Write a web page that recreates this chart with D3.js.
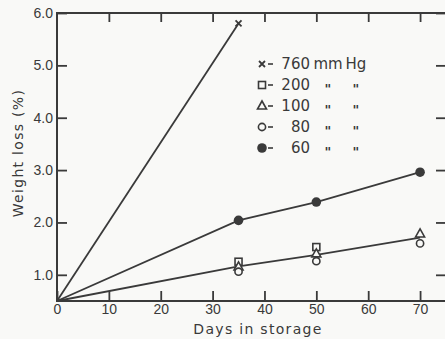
<!DOCTYPE html>
<html>
<head>
<meta charset="utf-8">
<script src="https://cdn.jsdelivr.net/npm/d3@7"></script>
<style>
  body { margin: 0; background: #f9f9f7; }
  svg { display: block; font-family: "DejaVu Sans", sans-serif; }
</style>
</head>
<body>
<div id="chart"></div>
<script>
// Days in storage and weight loss (%) per pressure
const days = [0, 35, 50, 70];
const loss760 = [0.5, 5.8];
const loss200 = [null, 1.25, 1.53, null];
const loss100 = [null, 1.15, 1.40, 1.78];
const loss80 = [null, 1.06, 1.26, 1.60];
const loss60 = [0.5, 2.04, 2.39, 2.96];
const fitLow = [0.5, 1.16, 1.38, 1.71];   // common line for 200/100/80

const xTicks = [0, 10, 20, 30, 40, 50, 60, 70];
const yTicks = [1, 2, 3, 4, 5, 6];
const legendLabels = ['760', '200', '100', '80', '60'];
const legendUnits = [['mm', 'Hg'], ['"', '"'], ['"', '"'], ['"', '"'], ['"', '"']];
const legendSymbols = ['x', 'square', 'triangle', 'circle', 'dot'];

const width = 445, height = 339;
const ink = '#3a3a3a';

const svg = d3.select('#chart').append('svg')
    .attr('width', width)
    .attr('height', height);

const x = d3.scaleLinear().domain([0, 75]).range([57, 446]);
const y = d3.scaleLinear().domain([0.5, 6.0]).range([301, 13]);

// Frame
svg.append('rect')
    .attr('x', x(0)).attr('y', y(6))
    .attr('width', x(75) - x(0)).attr('height', y(0.5) - y(6))
    .attr('fill', 'none').attr('stroke', ink).attr('stroke-width', 2);

const styleAxis = g => {
    g.select('.domain').remove();
    g.selectAll('line').attr('stroke', ink).attr('stroke-width', 1.8);
    g.selectAll('text').attr('fill', ink).style('font-size', '14px');
};

svg.append('g')
    .attr('transform', `translate(${x(0)},0)`)
    .call(d3.axisLeft(y).tickValues(yTicks).tickSize(-10).tickPadding(4).tickFormat(d3.format('.1f')))
    .call(styleAxis);

svg.append('g')
    .attr('transform', `translate(${x(75)},0)`)
    .call(d3.axisRight(y).tickValues(yTicks).tickSize(-10).tickFormat(''))
    .call(styleAxis);

svg.append('g')
    .attr('transform', `translate(0,${y(0.5)})`)
    .call(d3.axisBottom(x).tickValues(xTicks).tickSize(-10).tickPadding(3))
    .call(styleAxis);

svg.append('g')
    .attr('transform', `translate(0,${y(6)})`)
    .call(d3.axisTop(x).tickValues(xTicks.slice(1)).tickSize(-9).tickFormat(''))
    .call(styleAxis);

// Axis titles
svg.append('text')
    .attr('x', 258).attr('y', 334)
    .attr('text-anchor', 'middle')
    .attr('fill', ink)
    .style('font-size', '14px')
    .style('letter-spacing', '1.3px')
    .text('Days in storage');

svg.append('text')
    .attr('transform', 'translate(23,153) rotate(-90)')
    .attr('text-anchor', 'middle')
    .attr('fill', ink)
    .style('font-size', '14px')
    .style('letter-spacing', '1.3px')
    .text('Weight loss (%)');

// Lines
const line = d3.line()
    .defined(d => d[1] != null)
    .x(d => x(d[0]))
    .y(d => y(d[1]));

const lineSets = [
    d3.zip([0, 35], loss760),
    d3.zip(days, loss60),
    d3.zip(days, fitLow)
];
svg.selectAll('.fit')
    .data(lineSets)
    .enter().append('path')
    .attr('class', 'fit')
    .attr('d', line)
    .attr('fill', 'none')
    .attr('stroke', ink)
    .attr('stroke-width', 1.8);

// Markers
function drawMarker(g, kind) {
    if (kind === 'square') {
        g.append('rect').attr('x', -3.5).attr('y', -3.5).attr('width', 7).attr('height', 7)
            .attr('fill', '#f9f9f7').attr('stroke', ink).attr('stroke-width', 1.6);
    } else if (kind === 'triangle') {
        g.append('path').attr('d', 'M0,-5L4.5,3L-4.5,3Z')
            .attr('fill', '#f9f9f7').attr('stroke', ink).attr('stroke-width', 1.6);
    } else if (kind === 'circle') {
        g.append('circle').attr('r', 3.6)
            .attr('fill', '#f9f9f7').attr('stroke', ink).attr('stroke-width', 1.6);
    } else if (kind === 'dot') {
        g.append('circle').attr('r', 4.8).attr('fill', ink);
    } else {
        g.append('path').attr('d', 'M-3,-3L3,3M3,-3L-3,3')
            .attr('stroke', ink).attr('stroke-width', 1.8);
    }
}

const pointSets = [
    { kind: 'x', pts: [[35, loss760[1]]] },
    { kind: 'square', pts: d3.zip(days, loss200) },
    { kind: 'triangle', pts: d3.zip(days, loss100) },
    { kind: 'circle', pts: d3.zip(days, loss80) },
    { kind: 'dot', pts: d3.zip(days, loss60).filter(d => d[0] > 0) }
];
pointSets.forEach(s => {
    s.pts.filter(d => d[1] != null).forEach(d => {
        const g = svg.append('g').attr('transform', `translate(${x(d[0])},${y(d[1])})`);
        drawMarker(g, s.kind);
    });
});

// Legend
const legend = svg.append('g').attr('class', 'legend');
legendLabels.forEach((lab, i) => {
    const row = legend.append('g').attr('transform', `translate(0,${64 + i * 21})`);
    const m = row.append('g').attr('transform', 'translate(262,0)');
    drawMarker(m, legendSymbols[i]);
    row.append('line').attr('x1', 268).attr('x2', 273).attr('y1', 0).attr('y2', 0)
        .attr('stroke', ink).attr('stroke-width', 1.6);
    row.append('text').attr('x', 310).attr('y', 0).attr('dy', '0.36em')
        .attr('text-anchor', 'end').attr('fill', ink).style('font-size', '15px')
        .text(lab);
    legendUnits[i].forEach((u, j) => {
        row.append('text').attr('x', j === 0 ? 328 : 356).attr('y', 0)
            .attr('dy', u === '"' ? '0.6em' : '0.36em')
            .attr('text-anchor', 'middle').attr('fill', ink)
            .style('font-size', u === '"' ? '13px' : '15px')
            .style('font-weight', u === '"' ? 'bold' : 'normal')
            .text(u);
    });
});
</script>
</body>
</html>
